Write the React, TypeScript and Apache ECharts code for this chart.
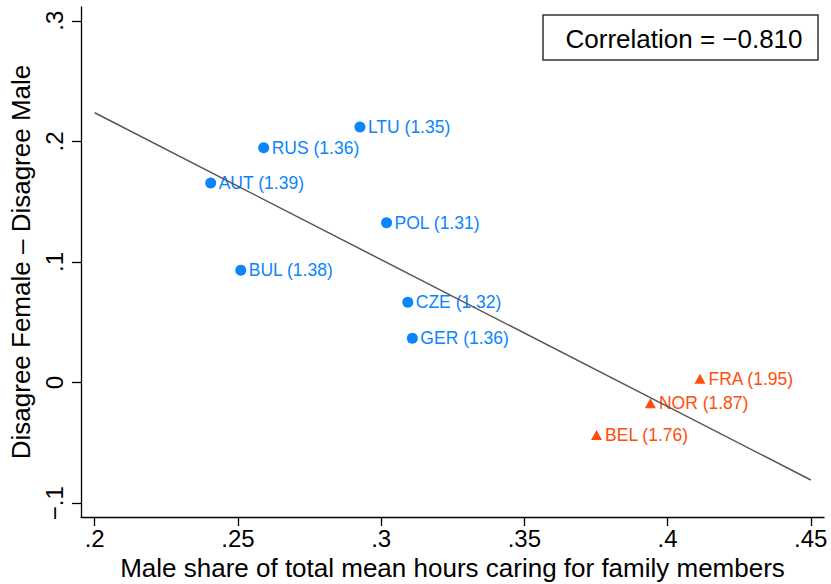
import React, { useEffect, useRef } from "react";
import * as echarts from "echarts";

const countries = ["LTU", "RUS", "AUT", "POL", "BUL", "CZE", "GER", "FRA", "NOR", "BEL"];
const maleShare = [0.2926, 0.259, 0.2405, 0.3019, 0.251, 0.3093, 0.3109, 0.4113, 0.394, 0.3752];
const disagreeGap = [0.2119, 0.1947, 0.1655, 0.1326, 0.0931, 0.0667, 0.0367, 0.0033, -0.0171, -0.0434];
const fertility = ["1.35", "1.36", "1.39", "1.31", "1.38", "1.32", "1.36", "1.95", "1.87", "1.76"];
const groupOf = ["low", "low", "low", "low", "low", "low", "low", "high", "high", "high"];

const fitLine = [
  [0.2, 0.2237],
  [0.45, -0.0807],
];

const xTickValues = [0.2, 0.25, 0.3, 0.35, 0.4, 0.45];
const xTickLabels = [".2", ".25", ".3", ".35", ".4", ".45"];
const yTickValues = [-0.1, 0, 0.1, 0.2, 0.3];
const yTickLabels = ["\u2212.1", "0", ".1", ".2", ".3"];

const correlationText = "Correlation = \u22120.810";
const xTitle = "Male share of total mean hours caring for family members";
const yTitle = "Disagree Female \u2013 Disagree Male";

const FONT = '"Liberation Sans", Arial, Helvetica, sans-serif';
const BLUE = "#0a84ff";
const ORANGE = "#ff4d0a";

function labelFor(values: number[], labels: string[], v: number) {
  let best = 0;
  for (let i = 0; i < values.length; i++) {
    if (Math.abs(values[i] - v) < Math.abs(values[best] - v)) best = i;
  }
  return labels[best];
}

function pointsOf(group: string) {
  const out: any[] = [];
  for (let i = 0; i < countries.length; i++) {
    if (groupOf[i] === group) {
      out.push({ value: [maleShare[i], disagreeGap[i]], name: `${countries[i]} (${fertility[i]})` });
    }
  }
  return out;
}

export default function App() {
  const ref = useRef<HTMLDivElement>(null);
  useEffect(() => {
    if (!ref.current) return;
    const chart = echarts.init(ref.current, undefined, { renderer: "svg" });
    const axisLine = { show: true, lineStyle: { color: "#000", width: 1.3 } };
    chart.setOption({
      animation: false,
      backgroundColor: "#fff",
      textStyle: { fontFamily: FONT },
      grid: { left: 81, top: 7, width: 743, height: 510, containLabel: false, outerBoundsMode: "none" },
      xAxis: {
        type: "value",
        min: 0.19522,
        max: 0.45461,
        axisLine: { ...axisLine, onZero: false },
        splitLine: { show: false },
        axisTick: { show: true, length: 9, customValues: xTickValues, lineStyle: { color: "#000", width: 1.3 } },
        axisLabel: {
          customValues: xTickValues,
          formatter: (v: number) => labelFor(xTickValues, xTickLabels, v),
          fontSize: 24,
          color: "#000",
          margin: 9,
          fontFamily: FONT,
        },
        name: xTitle,
        nameLocation: "middle",
        nameGap: 34,
        nameTextStyle: { fontSize: 26, color: "#000", fontFamily: FONT },
      },
      yAxis: {
        type: "value",
        min: -0.1114,
        max: 0.3114,
        axisLine: { ...axisLine, onZero: false },
        splitLine: { show: false },
        axisTick: { show: true, length: 9, customValues: yTickValues, lineStyle: { color: "#000", width: 1.3 } },
        axisLabel: {
          customValues: yTickValues,
          formatter: (v: number) => labelFor(yTickValues, yTickLabels, v),
          fontSize: 24,
          color: "#000",
          rotate: 90,
          margin: 15,
          fontFamily: FONT,
        },
        name: yTitle,
        nameLocation: "middle",
        nameGap: 42,
        nameTextStyle: { fontSize: 26, color: "#000", fontFamily: FONT },
      },
      series: [
        {
          type: "scatter",
          data: pointsOf("low"),
          symbol: "circle",
          symbolSize: 11,
          itemStyle: { color: BLUE, opacity: 1 },
          label: {
            show: true,
            position: "right",
            distance: 2.5,
            formatter: (p: any) => p.name,
            color: BLUE,
            opacity: 1,
            fontSize: 17.5,
            fontFamily: FONT,
          },
          z: 2,
        },
        {
          type: "scatter",
          data: pointsOf("high"),
          symbol: "triangle",
          symbolSize: [11, 10],
          itemStyle: { color: ORANGE, opacity: 1 },
          label: {
            show: true,
            position: "right",
            distance: 3,
            formatter: (p: any) => p.name,
            color: ORANGE,
            opacity: 1,
            fontSize: 17.5,
            fontFamily: FONT,
          },
          z: 2,
        },
        {
          type: "line",
          data: fitLine,
          showSymbol: false,
          symbol: "none",
          lineStyle: { color: "#555", width: 1.5 },
          silent: true,
          z: 3,
        },
      ],
      graphic: [
        {
          type: "rect",
          shape: { x: 543, y: 15, width: 275, height: 45 },
          style: { fill: "#fff", stroke: "#333", lineWidth: 1.5 },
          z: 10,
        },
        {
          type: "text",
          x: 684,
          y: 38.5,
          style: {
            text: correlationText,
            fontSize: 26,
            fontFamily: FONT,
            fill: "#000",
            textAlign: "center",
            textVerticalAlign: "middle",
          },
          z: 11,
        },
      ],
    });
    return () => chart.dispose();
  }, []);
  return (
    <div
      ref={ref}
      style={{ position: "fixed", left: 0, top: 0, width: 831, height: 584 }}
    />
  );
}
